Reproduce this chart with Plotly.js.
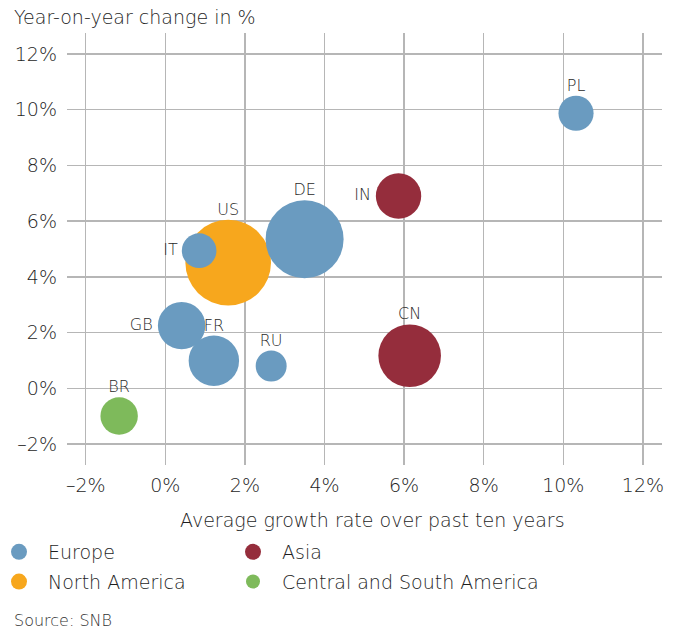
<!DOCTYPE html>
<html>
<head>
<meta charset="utf-8">
<script src="https://cdn.plot.ly/plotly-3.0.1.min.js"></script>
<style>html,body{margin:0;padding:0;background:#fff;}#chart{width:678px;height:630px;}</style>
</head>
<body>
<div id="chart"></div>
<script>
// ---- data ----
var regions = ["North America", "Europe", "Asia", "Central and South America"];
var legendOrder = [2, 1, 1, 2];
var legendIds = ["legend", "legend", "legend2", "legend2"];
var regionColors = ["#F7A71D", "#6A9BC0", "#952D3C", "#7EBA5B"];

var naCountries = ["US"];
var naGrowth10y = [1.58];
var naChangeYoY = [4.51];
var naWeight = [73.3];

var euCountries = ["IT", "DE", "GB", "FR", "RU", "PL"];
var euGrowth10y = [0.85, 3.50, 0.41, 1.22, 2.66, 10.32];
var euChangeYoY = [4.94, 5.35, 2.25, 0.99, 0.80, 9.87];
var euWeight = [12.0, 60.8, 22.5, 25.4, 9.6, 12.3];

var asCountries = ["IN", "CN"];
var asGrowth10y = [5.86, 6.14];
var asChangeYoY = [6.90, 1.17];
var asWeight = [20.6, 39.2];

var saCountries = ["BR"];
var saGrowth10y = [-1.16];
var saChangeYoY = [-0.99];
var saWeight = [14.0];

var tickVals = [-2, 0, 2, 4, 6, 8, 10, 12];
var tickText = ["\u20132%", "0%", "2%", "4%", "6%", "8%", "10%", "12%"];

// countries whose label sits left of the bubble (others: above)
var leftLabelled = ["IT", "GB", "IN"];

// ---- layout geometry (pixels) ----
var W = 678, H = 630;
var L = 67, R = 16, T = 33, B = 165;
var pw = W - L - R, ph = H - T - B;
function px(xp) { return (xp - L) / pw; }
function py(yp) { return (H - B - yp) / ph; }

var font = "'DejaVu Sans', 'Liberation Sans', Arial, sans-serif";
var txtColor = "#1e1e1e";
var fw = 300;
var SIZEREF = 0.02;

var groups = [
  [naCountries, naGrowth10y, naChangeYoY, naWeight],
  [euCountries, euGrowth10y, euChangeYoY, euWeight],
  [asCountries, asGrowth10y, asChangeYoY, asWeight],
  [saCountries, saGrowth10y, saChangeYoY, saWeight]
];

var traces = groups.map(function (g, i) {
  return {
    type: "scatter",
    mode: "markers",
    name: regions[i],
    legend: legendIds[i],
    legendrank: legendOrder[i],
    legendgroup: "g" + i,
    x: g[1],
    y: g[2],
    text: g[0],
    cliponaxis: false,
    marker: {
      color: regionColors[i],
      size: g[3],
      sizemode: "area",
      sizeref: SIZEREF,
      opacity: 1,
      line: {width: 0}
    },
    hoverinfo: "x+y+text"
  };
});

// country labels: text traces over all bubbles, with invisible markers
// scaled so Plotly's text offset hugs the bubble edge
function labelTrace(isLeft, scale) {
  var c = [], x = [], y = [], w = [];
  groups.forEach(function (g) {
    g[0].forEach(function (name, k) {
      if ((leftLabelled.indexOf(name) >= 0) === isLeft) {
        c.push(name); x.push(g[1][k]); y.push(g[2][k]); w.push(g[3][k]);
      }
    });
  });
  return {
    type: "scatter",
    mode: "markers+text",
    x: x, y: y, text: c,
    showlegend: false,
    hoverinfo: "skip",
    cliponaxis: false,
    textposition: isLeft ? "middle left" : "top center",
    textfont: {family: font, size: 16, color: "#2a2a2a", weight: fw},
    marker: {size: w, sizemode: "area", sizeref: SIZEREF / (scale * scale), opacity: 0, color: "rgba(0,0,0,0)"}
  };
}
traces.push(labelTrace(false, 0.8));
traces.push(labelTrace(true, 0.94));

var legendCommon = {
  orientation: "v",
  xanchor: "left",
  y: py(533),
  yanchor: "top",
  itemwidth: 48,
  itemsizing: "trace",
  traceorder: "grouped",
  tracegroupgap: 2,
  font: {family: font, size: 19, color: txtColor, weight: fw},
  bgcolor: "rgba(0,0,0,0)"
};

var layout = {
  width: W,
  height: H,
  margin: {l: L, r: R, t: T, b: B, pad: 0, autoexpand: false},
  paper_bgcolor: "#fff",
  plot_bgcolor: "#fff",
  font: {family: font, size: 19, color: txtColor, weight: fw},
  showlegend: true,
  legend: Object.assign({x: px(-10)}, legendCommon),
  legend2: Object.assign({x: px(224)}, legendCommon),
  xaxis: {
    range: [-2.47, 12.48],
    tickvals: tickVals,
    ticktext: tickText,
    showgrid: true,
    gridcolor: "#b6b6b6",
    gridwidth: 1.3,
    zeroline: false,
    showline: false,
    ticks: "",
    ticklabelstandoff: 7,
    tickfont: {family: font, size: 19, color: txtColor, weight: fw},
    fixedrange: true
  },
  yaxis: {
    range: [-2.75, 12.75],
    tickvals: tickVals,
    ticktext: tickText,
    showgrid: true,
    gridcolor: "#b6b6b6",
    gridwidth: 1.3,
    zeroline: false,
    showline: false,
    ticks: "",
    ticklabelstandoff: 9,
    tickfont: {family: font, size: 19, color: txtColor, weight: fw},
    fixedrange: true
  },
  annotations: [
    {
      text: "Year-on-year change in %",
      xref: "paper", yref: "paper",
      x: px(12), y: py(17),
      xanchor: "left", yanchor: "middle",
      showarrow: false,
      font: {family: font, size: 19, color: txtColor, weight: fw}
    },
    {
      text: "Average growth rate over past ten years",
      xref: "paper", yref: "paper",
      x: px(372), y: py(520),
      xanchor: "center", yanchor: "middle",
      showarrow: false,
      font: {family: font, size: 19, color: txtColor, weight: fw}
    },
    {
      text: "Source: SNB",
      xref: "paper", yref: "paper",
      x: px(12), y: py(620),
      xanchor: "left", yanchor: "middle",
      showarrow: false,
      font: {family: font, size: 16, color: "#333", weight: fw}
    }
  ]
};

Plotly.newPlot("chart", traces, layout, {displayModeBar: false, staticPlot: true});
</script>
</body>
</html>
